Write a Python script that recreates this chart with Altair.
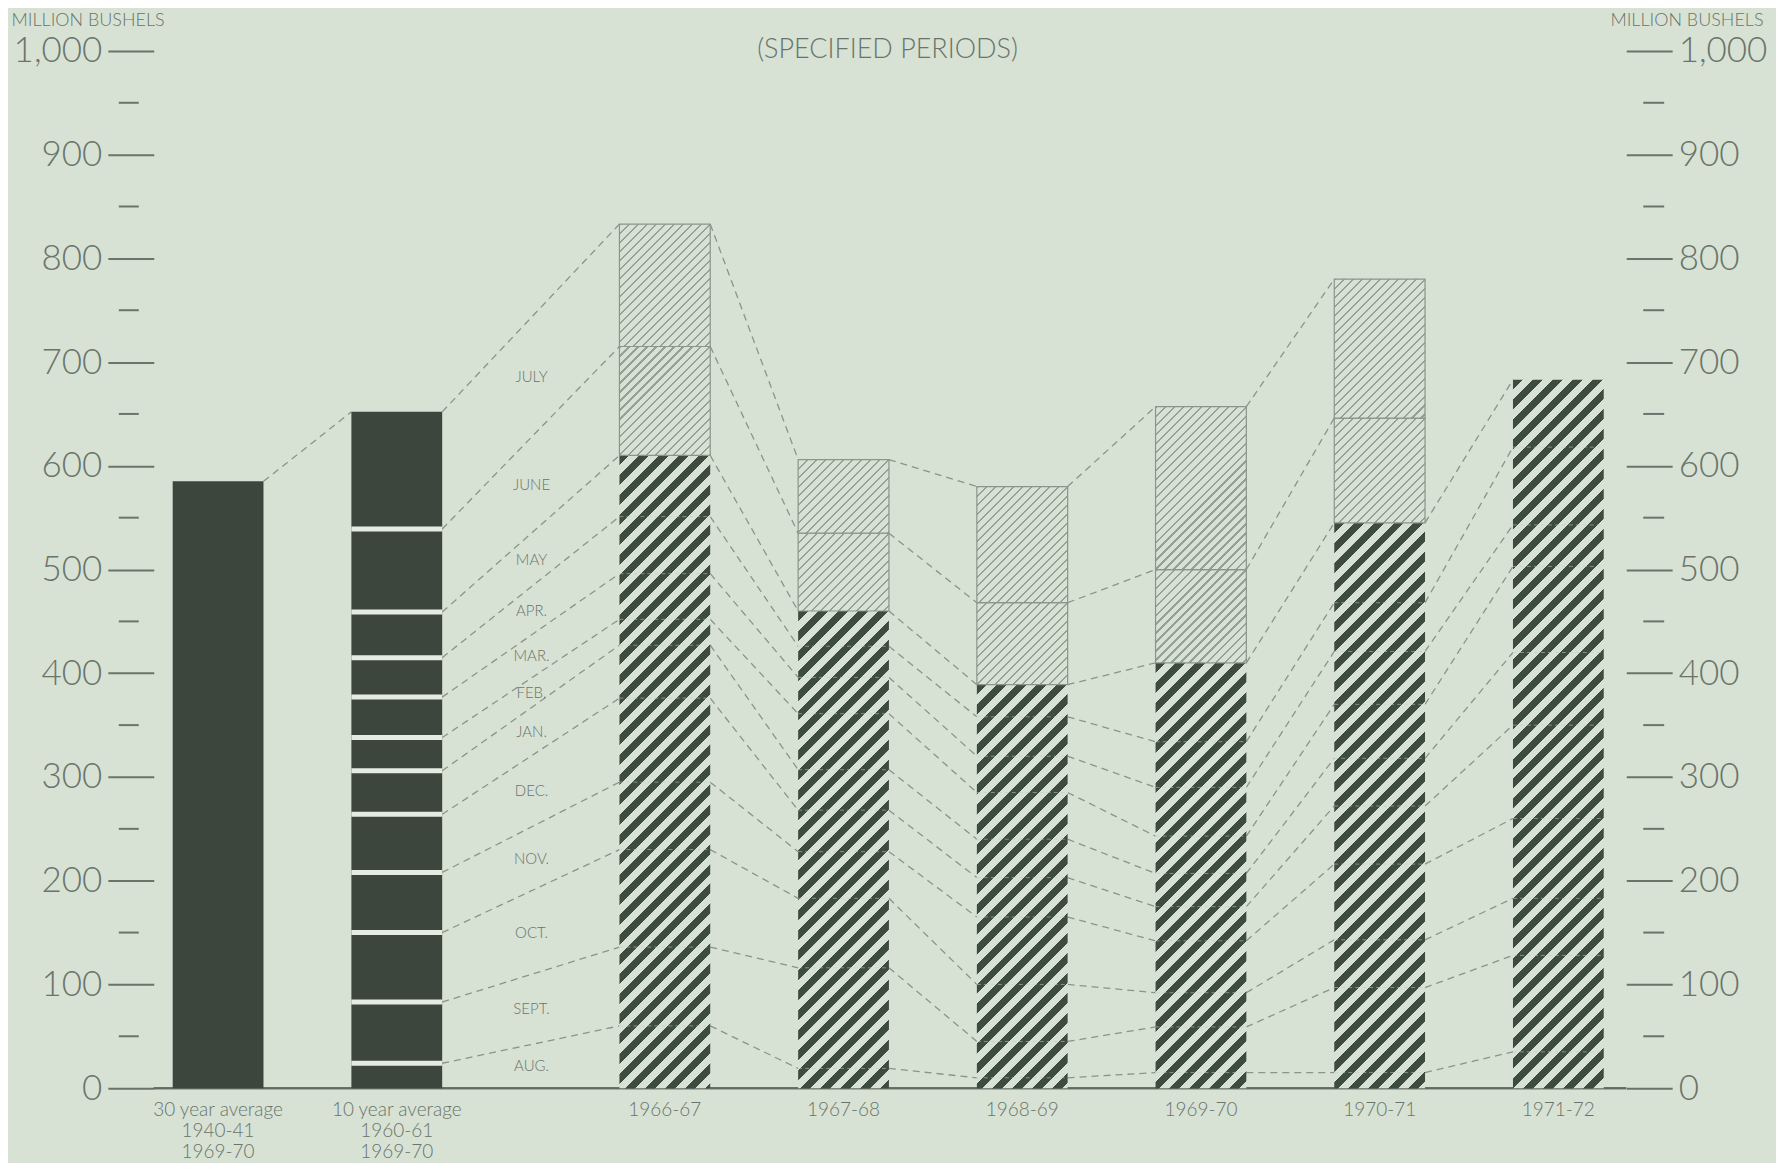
import altair as alt
import pandas as pd

# ---------------- data ----------------
period_labels = ["30 year average\n1940-41\n1969-70", "10 year average\n1960-61\n1969-70",
                 "1966-67", "1967-68", "1968-69", "1969-70", "1970-71", "1971-72"]
month_names = ["AUG.", "SEPT.", "OCT.", "NOV.", "DEC.", "JAN.", "FEB.", "MAR.",
               "APR.", "MAY", "JUNE", "JULY"]
avg30_total = 585
# cumulative totals at end of each month (Aug .. July), million bushels
avg10 = [24, 83, 150, 208, 264, 306, 338, 377, 415, 459, 539, 652]
y1966 = [60, 136, 230, 295, 376, 427, 452, 496, 551, 610, 715, 833]
y1967 = [19, 116, 183, 228, 268, 307, 361, 396, 426, 460, 535, 606]
y1968 = [10, 45, 100, 165, 203, 240, 285, 320, 358, 389, 468, 580]
y1969 = [15, 59, 92, 142, 175, 207, 243, 290, 334, 410, 500, 657]
y1970 = [15, 97, 143, 216, 272, 318, 370, 421, 468, 545, 646, 780]
y1971 = [35, 128, 183, 260, 350, 420, 503, 543, 618, 683]  # Aug - May only
year_series = [y1966, y1967, y1968, y1969, y1970, y1971]
y_ticks = list(range(0, 1001, 100))
y_minor = list(range(50, 1000, 100))

# ---------------- layout / style ----------------
W, H = 1475, 1039
XMIN, XMAX = -0.36, 7.88
slots = [0, 1, 2.5, 3.5, 4.5, 5.5, 6.5, 7.5]
HW = 0.254
LABEL_X = 1.754
PX = W / (XMAX - XMIN)
PY = H / 1000.0

BG = "#d7e2d5"
DARK = "#3c463d"
HATCH_DARK = "#3e4c40"
HATCH_LIGHT = "#95a195"
LINE = "#8a958a"
TEXT = "#6a746a"
FONT = "Lato"

xscale = alt.Scale(domain=[XMIN, XMAX], nice=False, zero=False)
yscale = alt.Scale(domain=[0, 1000], nice=False)


def hatch(w, h, period, duty, fg, bg):
    s = (w + h) / (w * w + h * h)
    n = (w + h) / period
    stops = []
    k = 0
    while k < n:
        a = k / n
        b = min((k + duty) / n, 1.0)
        c = min((k + 1) / n, 1.0)
        stops += [(a, fg), (b, fg), (b, bg), (c, bg)]
        k += 1
    return {"gradient": "linear", "x1": 0, "y1": 0, "x2": round(w * s, 5), "y2": round(h * s, 5),
            "stops": [{"offset": round(o, 5), "color": col} for o, col in stops]}


# connectors
seg_rows = [{"x": slots[0] + HW, "y": avg30_total, "x2": slots[1] - HW, "y2": avg10[-1]}]
series = [avg10] + year_series
for i in range(len(series) - 1):
    a, b = series[i], series[i + 1]
    for m in range(min(len(a), len(b))):
        seg_rows.append({"x": slots[i + 1] + HW, "y": a[m], "x2": slots[i + 2] - HW, "y2": b[m]})
segs = pd.DataFrame(seg_rows)

# rectangles
rect_rows = [
    {"x": slots[0] - HW, "x2": slots[0] + HW, "y": 0, "y2": avg30_total, "kind": "solid"},
    {"x": slots[1] - HW, "x2": slots[1] + HW, "y": 0, "y2": avg10[-1], "kind": "solid"},
]
inner_rows = []
for j, ys in enumerate(year_series):
    s = slots[j + 2]
    rect_rows.append({"x": s - HW, "x2": s + HW, "y": 0, "y2": ys[9], "kind": "dark"})
    if len(ys) > 10:
        rect_rows.append({"x": s - HW, "x2": s + HW, "y": ys[9], "y2": ys[10], "kind": "light"})
        rect_rows.append({"x": s - HW, "x2": s + HW, "y": ys[10], "y2": ys[11], "kind": "light"})
    for m in range(9):
        inner_rows.append({"x": s - HW, "x2": s + HW, "y": ys[m]})
rects = pd.DataFrame(rect_rows)
rects["rid"] = range(len(rects))
inner = pd.DataFrame(inner_rows)

sep = pd.DataFrame({"x": [slots[1] - HW] * 11, "x2": [slots[1] + HW] * 11, "y": avg10[:-1]})

# month labels (middle of each month band at the label column)
t = (LABEL_X - (slots[1] + HW)) / ((slots[2] - HW) - (slots[1] + HW))
line_at = [a + t * (b - a) for a, b in zip(avg10, y1966)]
lows = [0] + line_at[:-1]
mlab = pd.DataFrame({"x": [LABEL_X] * 12,
                     "y": [(lo + hi) / 2 for lo, hi in zip(lows, line_at)],
                     "text": month_names})

xlab = pd.DataFrame({"x": slots, "text": period_labels})

X = lambda f="x:Q": alt.X(f, scale=xscale, axis=None)
Y = lambda f="y:Q": alt.Y(f, scale=yscale, axis=None)

layers = []

axis_common = dict(values=y_ticks, format=",d", labelFont=FONT, labelFontSize=35,
                   labelFontWeight=300, labelColor=TEXT, tickSize=46, tickWidth=2,
                   tickColor=TEXT, domain=False, grid=False, labelPadding=6,
                   title="MILLION BUSHELS", titleAngle=0, titleFont=FONT, titleFontSize=18,
                   titleFontWeight=300, titleColor=TEXT, titleBaseline="middle", titleY=-30)
left_axis = alt.Axis(orient="left", titleX=-143, titleAlign="left", **axis_common)
right_axis = alt.Axis(orient="right", titleX=137, titleAlign="right", **axis_common)

base = pd.DataFrame({"v": [0]})
layers.append(alt.Chart(base).mark_rule(color="#626c62", strokeWidth=2).encode(
    y=alt.Y("v:Q", scale=yscale, axis=left_axis)))
layers.append(alt.Chart(base).mark_rule(color="#626c62", strokeWidth=2).encode(
    y=alt.Y("v:Q", scale=yscale, axis=right_axis)))

minor = pd.DataFrame({"v": y_minor})
layers.append(alt.Chart(minor).mark_rule(color=TEXT, strokeWidth=2).encode(
    y=alt.Y("v:Q", scale=yscale, axis=None), x=alt.value(-35), x2=alt.value(-15)))
layers.append(alt.Chart(minor).mark_rule(color=TEXT, strokeWidth=2).encode(
    y=alt.Y("v:Q", scale=yscale, axis=None), x=alt.value(W + 17), x2=alt.value(W + 38)))

# dashed connectors
layers.append(alt.Chart(segs).mark_rule(color=LINE, strokeWidth=1.3, strokeDash=[7, 5]).encode(
    x=X(), x2="x2:Q", y=Y(), y2="y2:Q"))

# bars
for _, r in rects.iterrows():
    w = (r["x2"] - r["x"]) * PX
    h = (r["y2"] - r["y"]) * PY
    if r["kind"] == "solid":
        mk = dict(fill=DARK)
    elif r["kind"] == "dark":
        mk = dict(fill=hatch(w, h, 20, 0.5, HATCH_DARK, BG))
    else:
        mk = dict(fill=hatch(w, h, 9, 0.24, HATCH_LIGHT, BG), stroke="#8a968a", strokeWidth=1.2)
    layers.append(alt.Chart(rects).transform_filter(alt.datum.rid == int(r["rid"])).mark_rect(**mk).encode(
        x=X(), x2="x2:Q", y=Y(), y2="y2:Q"))

# white separators in the 10-year average bar
layers.append(alt.Chart(sep).mark_rule(color="#e4ece1", strokeWidth=5).encode(
    x=X(), x2="x2:Q", y=Y()))
# faint month boundaries inside hatched bars
layers.append(alt.Chart(inner).mark_rule(color="#c3cec1", strokeWidth=1, opacity=0.55,
                                          strokeDash=[4, 3]).encode(x=X(), x2="x2:Q", y=Y()))

# text
layers.append(alt.Chart(mlab).mark_text(font=FONT, fontSize=15, fontWeight=300, color=TEXT,
                                         baseline="middle").encode(
    x=X(), y=Y(), text="text:N"))
layers.append(alt.Chart(xlab).mark_text(font=FONT, fontSize=19, fontWeight=300, color=TEXT,
                                         baseline="top", lineBreak="\n",
                                         lineHeight=21).encode(
    x=X(), y=alt.value(H + 13), text="text:N"))
layers.append(alt.Chart(base).mark_text(font=FONT, fontSize=27, fontWeight=300, color=TEXT,
                                         baseline="middle").encode(
    x=alt.value(735), y=alt.value(-1), text=alt.value("(SPECIFIED PERIODS)")))

chart = alt.layer(*layers).resolve_axis(y="independent").properties(
    width=W, height=H,
    autosize=alt.AutoSizeParams(type="none"),
    padding={"left": 146, "top": 42, "right": 150, "bottom": 74},
).configure(background=BG).configure_view(stroke=None)

chart.save("out.html", embed_options={"renderer": "svg", "actions": False})
